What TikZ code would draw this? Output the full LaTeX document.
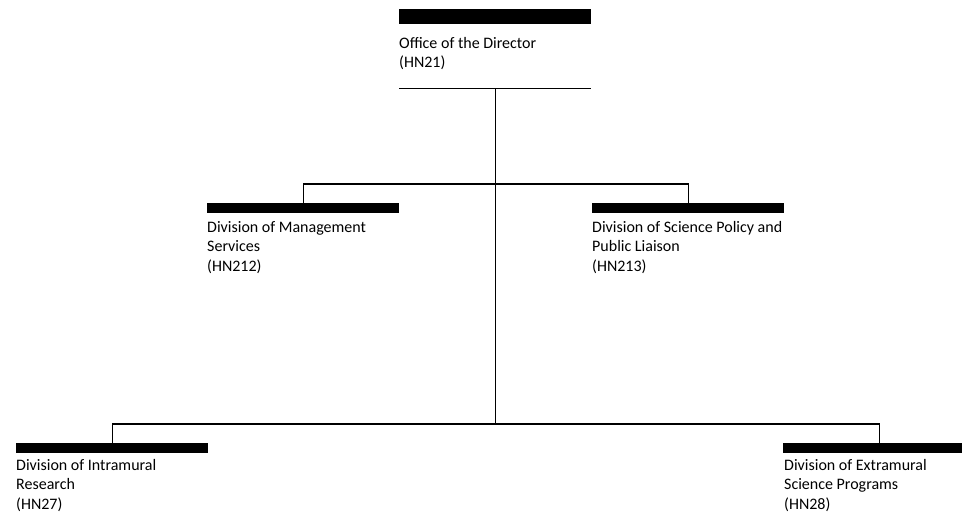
\documentclass[tikz,border=0pt]{standalone}
\usepackage{fontspec}
\setmainfont{Carlito}
\usetikzlibrary{calc}
\begin{document}
\begin{tikzpicture}[x=1pt,y=1pt,
  bar/.style={fill=black,draw=none,inner sep=0pt,minimum width=192pt,anchor=north west},
  thinbar/.style={bar,minimum height=10pt},
  label/.style={anchor=base west,inner sep=0pt,align=left,font=\fontsize{16}{19.5}\selectfont},
  conn/.style={draw=black,line width=1.3pt}]
\useasboundingbox (0,0) rectangle (962,-517);
% top box (base anchor = baseline of last line)
\node[bar,minimum height=15pt] (dirbar) at (399,-9) {};
\node[label] (dirtxt) at (399,-67.5) {Office of the Director\\(HN21)};
\node[bar,minimum height=1.3pt] (dirrule) at (399,-87.5) {};
% middle
\node[thinbar] (msbar) at (207,-203) {};
\node[label] (mstxt) at (207,-271) {Division of Management\\Services\\(HN212)};
\node[thinbar] (spbar) at (592,-203) {};
\node[label] (sptxt) at (592,-271) {Division of Science Policy and\\Public Liaison\\(HN213)};
% bottom
\node[thinbar] (irbar) at (16,-443) {};
\node[label] (irtxt) at (16,-509) {Division of Intramural\\Research\\(HN27)};
\node[thinbar] (erbar) at (783,-443) {};
\node[label] (ertxt) at (784,-509) {Division of Extramural\\Science Programs\\(HN28)};
% connectors
\coordinate (j2) at ($(irbar.north)+(0,19)$);
\draw[conn] (msbar.north) -- ++(0,19) -| (spbar.north);
\draw[conn] (irbar.north) -- (j2) -| (erbar.north);
\draw[conn] (dirrule.south) -- (dirrule.south |- j2);
\end{tikzpicture}
\end{document}
